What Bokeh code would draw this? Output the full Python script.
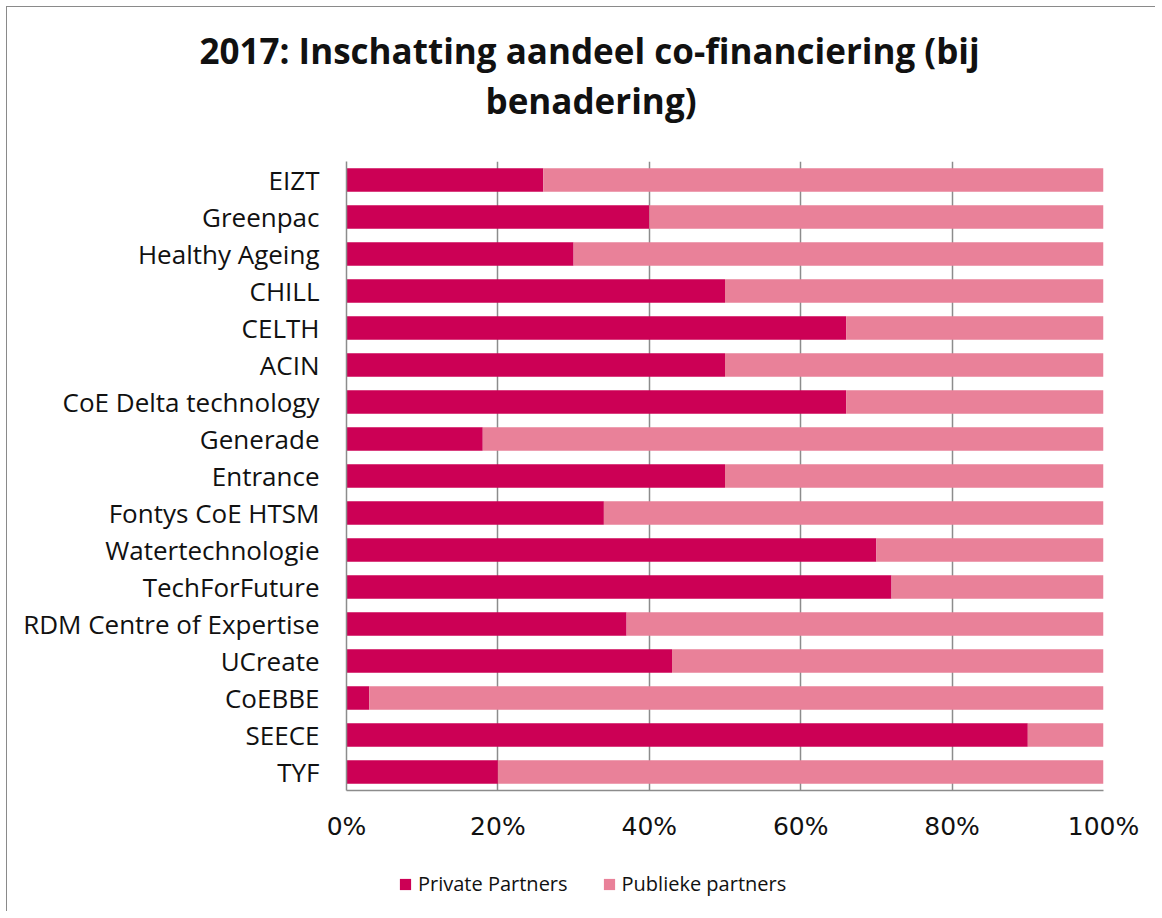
from bokeh.plotting import figure
from bokeh.layouts import column
from bokeh.models import (FactorRange, Range1d, Title, Legend, LegendItem,
                          FixedTicker)
from bokeh.embed import file_html
from bokeh.resources import INLINE

categories = ["EIZT", "Greenpac", "Healthy Ageing", "CHILL", "CELTH", "ACIN",
              "CoE Delta technology", "Generade", "Entrance", "Fontys CoE HTSM",
              "Watertechnologie", "TechForFuture", "RDM Centre of Expertise",
              "UCreate", "CoEBBE", "SEECE", "TYF"]
private_partners = [26, 40, 30, 50, 66, 50, 66, 18, 50, 34, 70, 72, 37, 43, 3, 90, 20]
publieke_partners = [74, 60, 70, 50, 34, 50, 34, 82, 50, 66, 30, 28, 63, 57, 97, 10, 80]
series_names = ["Private Partners", "Publieke partners"]
tick_values = [0, 20, 40, 60, 80, 100]
tick_labels = ["0%", "20%", "40%", "60%", "80%", "100%"]
title_lines = ["2017: Inschatting aandeel co-financiering (bij", "benadering)"]

C_PRIV = "#CC0055"
C_PUB = "#E98199"
GRID = "#8c8c8c"
FONT = "Open Sans"
TXT = "#111111"

p = figure(width=1148, height=843, output_backend="svg", toolbar_location=None,
           y_range=FactorRange(factors=list(reversed(categories)), range_padding=0),
           x_range=Range1d(0, 100),
           min_border_left=339, min_border_right=52,
           min_border_top=154, min_border_bottom=60)
p.outline_line_color = None

src = dict(cat=categories, priv=private_partners, pub=publieke_partners)
p.hbar_stack(["priv", "pub"], y="cat", height=0.63, color=[C_PRIV, C_PUB],
             line_color=None, source=src)

# axes
p.xaxis.ticker = FixedTicker(ticks=tick_values)
p.xaxis.major_label_overrides = {v: l for v, l in zip(tick_values, tick_labels)}
p.xaxis.major_label_text_font = "DejaVu Sans"
p.xaxis.major_label_text_font_size = "25px"
p.xaxis.major_label_text_color = TXT
p.xaxis.major_label_standoff = 21
p.xaxis.major_tick_out = 0
p.xaxis.axis_line_color = GRID
p.xaxis.axis_line_width = 1.5
p.xaxis.major_tick_line_color = None
p.xaxis.minor_tick_line_color = None

p.yaxis.major_label_text_font = FONT
p.yaxis.major_label_text_font_size = "26px"
p.yaxis.major_label_text_color = TXT
p.yaxis.major_label_standoff = 27
p.yaxis.major_tick_out = 0
p.yaxis.axis_line_color = GRID
p.yaxis.axis_line_width = 1.5
p.yaxis.major_tick_line_color = None
p.yaxis.minor_tick_line_color = None

p.xgrid.grid_line_color = GRID
p.xgrid.grid_line_width = 1.5
p.ygrid.grid_line_color = None

# title: spacer + two lines stacked above the plot
p.add_layout(Title(text=" ", standoff=35, text_font_size="1px"), "above")
p.add_layout(Title(text=title_lines[1], align="left", offset=139, standoff=0,
                   text_font=FONT, text_font_style="bold", text_font_size="35px",
                   text_color=TXT), "above")
p.add_layout(Title(text=title_lines[0], align="left", offset=-147, standoff=2,
                   text_font=FONT, text_font_style="bold", text_font_size="35px",
                   text_color=TXT), "above")

# legend strip below the chart (frame aligned with the main chart by the column)
lf = figure(width=1148, height=61, output_backend="svg", toolbar_location=None,
            y_range=FactorRange(factors=list(reversed(categories))),
            x_range=Range1d(0, 100),
            min_border_left=339, min_border_right=52, min_border_top=0,
            min_border_bottom=0, outline_line_color=None)
lf.axis.visible = False
lf.grid.visible = False
lr = lf.hbar_stack(["priv", "pub"], y="cat", height=0.63, color=[C_PRIV, C_PUB],
                   line_color=None, source=src)
for rr in lr:
    rr.visible = False
legend = Legend(items=[LegendItem(label=series_names[0], renderers=[lr[0]]),
                       LegendItem(label=series_names[1], renderers=[lr[1]])],
                orientation="horizontal", location=(52, 14),
                padding=0, margin=0, spacing=34, label_standoff=6,
                glyph_width=14, glyph_height=14, label_height=20,
                label_text_font=FONT, label_text_font_size="20px",
                label_text_color=TXT,
                border_line_color=None, background_fill_alpha=0)
lf.add_layout(legend, "center")

layout = column(p, lf, spacing=0,
                styles={"border-left": "1.5px solid #8a8a8a",
                        "border-top": "1.5px solid #8a8a8a",
                        "margin-left": "6px", "margin-top": "6px"})

open("out.html", "w").write(file_html(layout, INLINE))
